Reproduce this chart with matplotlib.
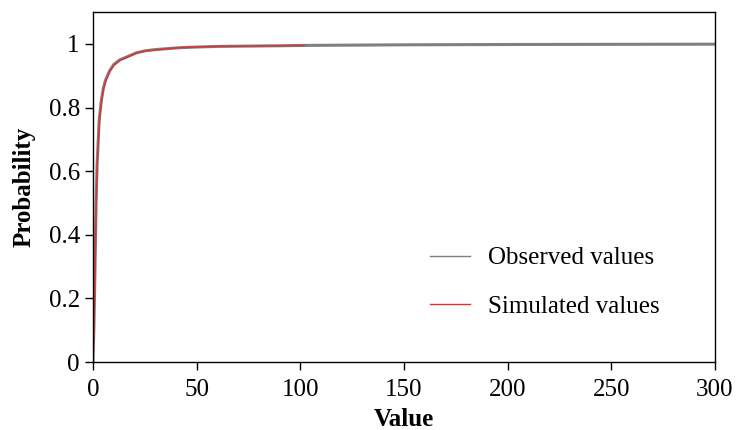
import matplotlib
matplotlib.use("Agg")
import matplotlib.pyplot as plt

plt.rcParams['font.family'] = ['Liberation Serif', 'DejaVu Serif']

# cumulative probability curves
obs_x = [0, 0.5, 1, 1.5, 2, 3, 4, 5, 6, 8, 10, 13, 16, 21, 25, 30, 42, 50, 60, 90, 100, 150, 200, 300]
obs_y = [0, 0.12, 0.3, 0.5, 0.62, 0.76, 0.82, 0.86, 0.885, 0.915, 0.935, 0.95, 0.958, 0.972, 0.978, 0.982, 0.988, 0.99, 0.992, 0.994, 0.995, 0.997, 0.998, 0.999]
sim_x = [0, 0.5, 1, 1.5, 2, 3, 4, 5, 6, 8, 10, 13, 16, 21, 25, 30, 42, 50, 60, 90, 102]
sim_y = [0, 0.1, 0.28, 0.48, 0.61, 0.75, 0.815, 0.855, 0.88, 0.912, 0.932, 0.948, 0.957, 0.971, 0.977, 0.981, 0.988, 0.99, 0.992, 0.994, 0.995]

fig = plt.figure(figsize=(7.39, 4.30), dpi=100)
ax = fig.add_axes([0.1258, 0.158, 0.8417, 0.814])

ax.plot(obs_x, obs_y, color='#808080', lw=2.2, label='Observed values')
ax.plot(sim_x, sim_y, color='#e03030', lw=1.0, label='Simulated values')

ax.set_xlim(0, 300)
ax.set_ylim(0, 1.1)
ax.set_xticks([0, 50, 100, 150, 200, 250, 300])
ax.set_yticks([0, 0.2, 0.4, 0.6, 0.8, 1.0])
ax.set_yticklabels(['0', '0.2', '0.4', '0.6', '0.8', '1'])
ax.tick_params(labelsize=18, length=6, width=1, direction='out', top=False, right=False)
ax.tick_params(axis='x', pad=6)
ax.set_xlabel('Value', fontsize=18, fontweight='bold', labelpad=5)
ax.set_ylabel('Probability', fontsize=18, fontweight='bold', labelpad=9)
for s in ax.spines.values():
    s.set_linewidth(1)

leg = ax.legend(loc='center left', bbox_to_anchor=(0.521, 0.227), frameon=False, borderpad=0,
                fontsize=18, handlelength=1.6, labelspacing=1.05, handletextpad=0.75)
for line in leg.get_lines():
    line.set_linewidth(1)

fig.savefig('out.png', dpi=100)
